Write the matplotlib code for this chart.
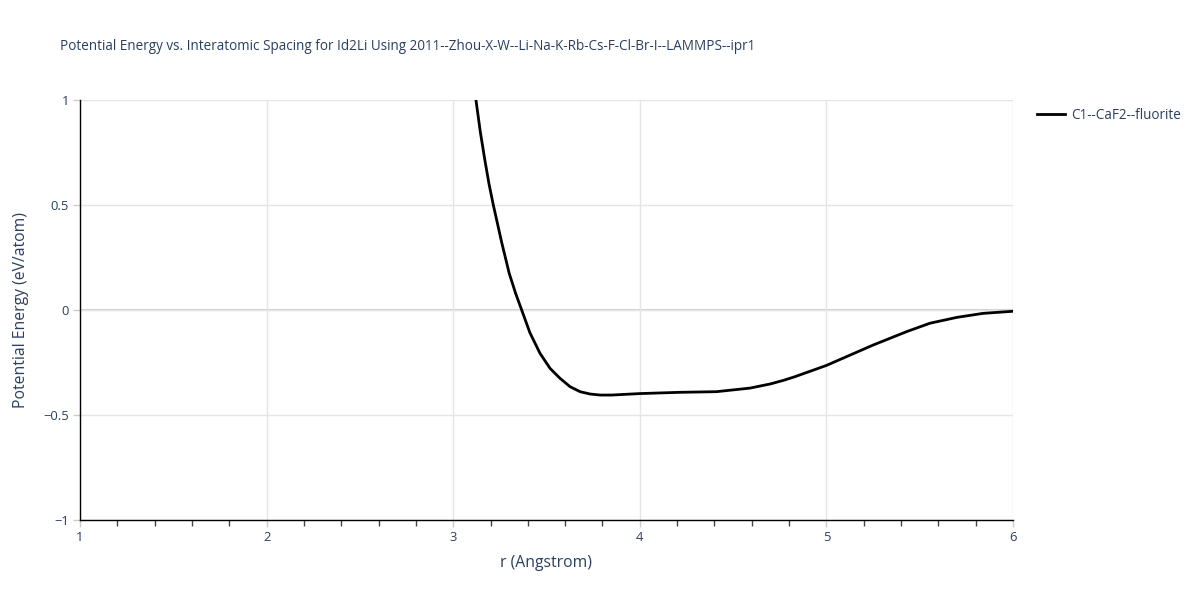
import matplotlib.pyplot as plt
from matplotlib.ticker import MultipleLocator

plt.rcParams['font.family'] = ['Open Sans', 'DejaVu Sans']

r = [3.122, 3.145, 3.170, 3.192, 3.215, 3.259, 3.30, 3.335, 3.367, 3.411, 3.465,
     3.519, 3.572, 3.626, 3.68, 3.733, 3.787, 3.85, 4.0, 4.215, 4.41, 4.59, 4.70,
     4.77, 4.83, 5.0, 5.25, 5.43, 5.555, 5.70, 5.84, 6.0]
energy = [1.0, 0.850, 0.712, 0.600, 0.5, 0.325, 0.175, 0.078, 0.0, -0.108, -0.206,
          -0.278, -0.325, -0.365, -0.389, -0.400, -0.405, -0.405, -0.398, -0.392,
          -0.389, -0.372, -0.352, -0.335, -0.318, -0.264, -0.167, -0.103, -0.063,
          -0.035, -0.016, -0.006]

title = 'Potential Energy vs. Interatomic Spacing for Id2Li Using 2011--Zhou-X-W--Li-Na-K-Rb-Cs-F-Cl-Br-I--LAMMPS--ipr1'
series_name = 'C1--CaF2--fluorite'

txt = '#2a3f5f'
px = 0.72  # px -> pt at dpi 100

fig = plt.figure(figsize=(12, 6), dpi=100)
ax = fig.add_axes([80 / 1200, 80 / 600, 933 / 1200, 420 / 600])

ax.plot(r, energy, color='black', lw=2, label=series_name, zorder=3,
        solid_joinstyle='round')

ax.set_xlim(1, 6)
ax.set_ylim(-1, 1)
ax.set_xticks([1, 2, 3, 4, 5, 6])
ax.set_yticks([-1, -0.5, 0, 0.5, 1])
ax.set_yticklabels(['\u22121', '\u22120.5', '0', '0.5', '1'])
ax.xaxis.set_minor_locator(MultipleLocator(0.2))

ax.grid(True, which='major', color='#e5e5e5', lw=1, zorder=0)
ax.axhline(0, color='#d0d0d0', lw=1.5, zorder=1)

for s in ['top', 'right']:
    ax.spines[s].set_visible(False)
for s in ['left', 'bottom']:
    ax.spines[s].set_color('black')
    ax.spines[s].set_linewidth(1)

ax.tick_params(which='major', length=5, color='#cccccc', width=1, labelsize=13 * px, labelcolor=txt, pad=3)
ax.tick_params(axis='x', which='minor', length=4, color='#444444', width=1)

ax.set_xlabel('r (Angstrom)', fontsize=15.7 * px, color=txt, labelpad=8)
ax.set_ylabel('Potential Energy (eV/atom)', fontsize=15.7 * px, color=txt, labelpad=10)

fig.text(60 / 1200, 1 - 46 / 600, title, fontsize=13.5 * px, color=txt, va='center', ha='left')

ax.legend(loc='upper left', bbox_to_anchor=(1.017, 1.0), frameon=False,
          fontsize=13.5 * px, labelcolor=txt, handlelength=2.1, handletextpad=0.4,
          borderaxespad=0.3, borderpad=0.3)

fig.savefig('out.png', dpi=100)
